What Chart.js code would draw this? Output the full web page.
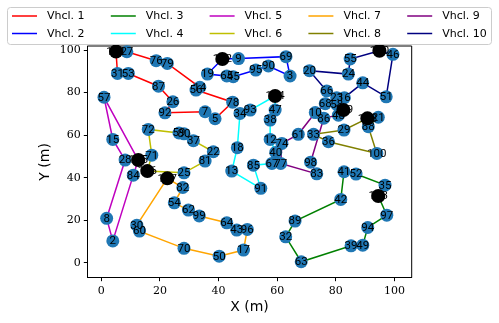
<!DOCTYPE html>
<html lang="en">
<head>
<meta charset="UTF-8" />
<title>Vehicle routes</title>
<script src="https://cdn.jsdelivr.net/npm/chart.js@4.4.0/dist/chart.umd.min.js"></script>
<style>
    html, body { margin: 0; padding: 0; background: #fff; }
    canvas { display: block; }
</style>
</head>
<body>
<canvas id="chart" width="499" height="323"></canvas>
<script>
// customers
const nodeIds = [27, 76, 79, 31, 53, 87, 26, 92, 7, 5, 78, 56, 14,
    9, 19, 65, 45, 95, 90, 69, 3,
    46, 55, 24, 20, 44, 51, 66, 23, 16,
    68, 58, 48, 10, 86, 61, 33, 36, 29, 21, 88, 100, 98, 83, 74, 77,
    67, 40, 12, 38, 47, 93, 34, 18, 13, 91, 85,
    57, 15, 28, 71, 72, 84, 25, 82, 59, 80, 37, 22, 81, 8, 2,
    30, 60, 70, 50, 17, 43, 96, 64, 99, 62, 54,
    35, 52, 41, 42, 89, 32, 63, 39, 49, 94, 97];
const nodeX = [8.7, 18.7, 22.5, 5.5, 9.2, 19.5, 24.4, 21.7, 35.4, 38.8, 44.8, 32.3, 33.6,
    46.8, 36.2, 42.8, 45.0, 52.7, 57.0, 63.0, 64.4,
    99.5, 84.9, 84.3, 71.0, 89.2, 97.2, 76.9, 80.3, 82.9,
    76.4, 80.3, 80.9, 73.0, 75.9, 67.2, 72.4, 77.5, 82.8, 94.5, 91.1, 94.0, 71.4, 73.5, 61.6, 61.2,
    58.2, 59.5, 57.6, 57.6, 59.3, 50.8, 47.3, 46.4, 44.5, 54.4, 51.9,
    0.9, 3.9, 8.1, 17.2, 16.0, 10.9, 28.2, 27.8, 26.5, 28.2, 31.4, 38.2, 35.4, 1.8, 3.9,
    12.1, 13.0, 28.2, 40.2, 48.5, 46.2, 49.8, 42.8, 33.4, 29.7, 24.9,
    96.8, 86.9, 82.8, 81.7, 66.1, 62.9, 68.2, 85.2, 89.2, 90.9, 97.4];
const nodeY = [99.2, 95.0, 93.7, 89.0, 89.0, 83.0, 75.7, 70.5, 71.0, 67.7, 75.5, 81.2, 82.5,
    96.0, 88.7, 87.8, 87.5, 90.6, 92.5, 96.9, 87.8,
    98.0, 95.8, 88.7, 90.3, 84.6, 78.0, 80.8, 77.6, 77.6,
    74.8, 74.5, 69.4, 70.6, 68.0, 60.4, 60.4, 56.9, 62.4, 68.4, 64.0, 51.4, 47.3, 41.8, 56.1, 46.7,
    46.7, 51.9, 58.0, 67.1, 71.8, 71.8, 70.2, 54.1, 43.1, 35.0, 45.9,
    77.8, 58.0, 48.3, 50.6, 62.7, 41.2, 42.3, 35.4, 61.0, 60.6, 57.4, 52.2, 47.8, 20.9, 10.3,
    17.7, 14.9, 6.8, 3.1, 6.0, 15.4, 15.7, 18.8, 22.0, 24.8, 28.2,
    36.5, 41.7, 42.8, 29.8, 19.6, 12.2, 0.5, 8.0, 8.3, 16.6, 22.4];

// depots, one per vehicle
const depotIds = [101, 102, 103, 104, 105, 106, 107, 108, 109, 110];
const depotX = [5.0, 41.3, 94.5, 59.3, 12.6, 15.7, 22.5, 90.8, 82.6, 94.9];
const depotY = [99.3, 95.8, 31.4, 78.4, 48.3, 43.1, 39.7, 67.9, 71.8, 99.7];

// routes, start and end at the vehicle's depot
const vehicleLabels = ["Vhcl. 1", "Vhcl. 2", "Vhcl. 3", "Vhcl. 4", "Vhcl. 5",
    "Vhcl. 6", "Vhcl. 7", "Vhcl. 8", "Vhcl. 9", "Vhcl. 10"];
const routes = [
    [101, 27, 76, 79, 14, 56, 78, 5, 7, 92, 26, 87, 53, 31, 101],
    [102, 9, 69, 3, 90, 95, 45, 65, 19, 102],
    [103, 35, 52, 41, 42, 89, 32, 63, 39, 49, 94, 97, 103],
    [104, 93, 34, 18, 13, 91, 85, 67, 40, 12, 38, 47, 104],
    [105, 57, 15, 28, 8, 2, 84, 105],
    [106, 71, 72, 59, 80, 37, 22, 81, 25, 106],
    [107, 82, 54, 62, 99, 64, 43, 96, 17, 50, 70, 60, 30, 107],
    [108, 21, 88, 100, 36, 33, 29, 108],
    [109, 58, 68, 10, 61, 74, 77, 83, 98, 86, 48, 109],
    [110, 46, 51, 44, 16, 23, 66, 20, 24, 55, 110]
];

const xTicks = [0, 20, 40, 60, 80, 100];
const yTicks = [0, 20, 40, 60, 80, 100];

const vehicleColors = ["#ff0000", "#0000ff", "#008000", "#00ffff", "#bf00bf",
    "#bfbf00", "#ffa500", "#808000", "#800080", "#000080"];

const pos = {};
nodeIds.forEach((id, i) => { pos[id] = { x: nodeX[i], y: nodeY[i] }; });
depotIds.forEach((id, i) => { pos[id] = { x: depotX[i], y: depotY[i] }; });

const datasets = routes.map((r, k) => ({
    label: vehicleLabels[k],
    data: r.map(id => pos[id]),
    showLine: true,
    borderColor: vehicleColors[k],
    borderWidth: 1.5,
    pointRadius: 0,
    fill: false,
    clip: false,
    order: 3
}));
datasets.push({
    label: "nodes",
    data: nodeIds.map(id => pos[id]),
    backgroundColor: "#1f77b4",
    borderWidth: 0,
    pointRadius: 6.5,
    clip: false,
    order: 2
});
datasets.push({
    label: "depots",
    data: depotIds.map(id => pos[id]),
    backgroundColor: "#000",
    borderWidth: 0,
    pointRadius: 7,
    clip: false,
    order: 1
});

// top and right spines
const frame = {
    id: "frame",
    beforeDatasetsDraw(chart) {
        const { ctx, chartArea: a } = chart;
        ctx.save();
        ctx.strokeStyle = "#000";
        ctx.lineWidth = 1;
        ctx.beginPath();
        ctx.moveTo(a.left, a.top);
        ctx.lineTo(a.right, a.top);
        ctx.lineTo(a.right, a.bottom);
        ctx.stroke();
        ctx.restore();
    }
};

// number written on each node
const nodeLabels = {
    id: "nodeLabels",
    afterDatasetsDraw(chart) {
        const { ctx, scales } = chart;
        ctx.save();
        ctx.font = "11.5px Roboto";
        ctx.fillStyle = "#000";
        ctx.textAlign = "center";
        ctx.textBaseline = "middle";
        nodeIds.concat(depotIds).forEach(id => {
            const px = scales.x.getPixelForValue(pos[id].x);
            const py = scales.y.getPixelForValue(pos[id].y);
            ctx.fillText(String(id), px, py + 0.5);
        });
        ctx.restore();
    }
};

// legend in 5 columns, filled column by column
const boxLegend = {
    id: "boxLegend",
    afterDraw(chart) {
        const ctx = chart.ctx;
        ctx.save();
        ctx.fillStyle = "rgba(255,255,255,0.8)";
        ctx.strokeStyle = "#cccccc";
        ctx.lineWidth = 1;
        ctx.beginPath();
        ctx.roundRect(7.5, 7.5, 484, 37, 3);
        ctx.fill();
        ctx.stroke();
        ctx.font = "11px 'DejaVu Sans'";
        ctx.textBaseline = "middle";
        ctx.fillStyle = "#000";
        vehicleLabels.forEach((lab, i) => {
            const col = Math.floor(i / 2), row = i % 2;
            const x0 = 12 + col * 98.8;
            const y0 = 16 + row * 17.5;
            ctx.strokeStyle = vehicleColors[i];
            ctx.lineWidth = 1.5;
            ctx.beginPath();
            ctx.moveTo(x0, y0);
            ctx.lineTo(x0 + 25, y0);
            ctx.stroke();
            ctx.fillText(lab, x0 + 35, y0 + 0.5);
        });
        ctx.restore();
    }
};

new Chart(document.getElementById("chart"), {
    type: "scatter",
    data: { datasets: datasets },
    options: {
        responsive: false,
        animation: false,
        devicePixelRatio: 1,
        events: [],
        layout: { padding: { top: 46, right: 87.3, left: 0, bottom: 0 } },
        plugins: {
            legend: { display: false },
            tooltip: { enabled: false }
        },
        scales: {
            x: {
                type: "linear",
                min: -4.8,
                max: 105.9,
                afterBuildTicks: s => { s.ticks = xTicks.map(v => ({ value: v })); },
                afterFit: s => { s.height = 45.3; },
                grid: { drawOnChartArea: false, drawTicks: true, tickLength: 3.5, tickColor: "#000" },
                border: { color: "#000" },
                ticks: { color: "#000", font: { family: "DejaVu Serif", size: 11 }, padding: 3, maxRotation: 0 },
                title: { display: true, text: "X (m)", color: "#000",
                    font: { family: "DejaVu Sans", size: 14 }, padding: { top: 0, bottom: 7 } }
            },
            y: {
                type: "linear",
                min: -7,
                max: 101.9,
                afterBuildTicks: s => { s.ticks = yTicks.map(v => ({ value: v })); },
                afterFit: s => { s.width = 87.3; },
                grid: { drawOnChartArea: false, drawTicks: true, tickLength: 3.5, tickColor: "#000" },
                border: { color: "#000" },
                ticks: { color: "#000", font: { family: "DejaVu Serif", size: 11 }, padding: 3 },
                title: { display: true, text: "Y (m)", color: "#000",
                    font: { family: "DejaVu Sans", size: 14 }, padding: { top: 36.6, bottom: 0 } }
            }
        }
    },
    plugins: [frame, nodeLabels, boxLegend]
});
</script>
</body>
</html>
